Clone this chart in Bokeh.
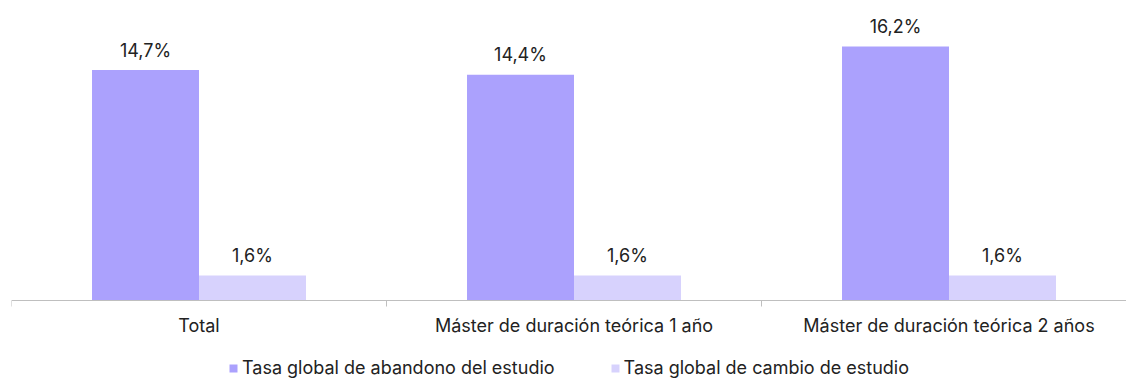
from bokeh.plotting import figure
from bokeh.models import Range1d, Legend, LegendItem, ColumnDataSource, Span
from bokeh.embed import file_html
from bokeh.resources import INLINE
from bokeh.core.properties import value

categories = ["Total", "Máster de duración teórica 1 año", "Máster de duración teórica 2 años"]
abandono = [14.7, 14.4, 16.2]
cambio = [1.6, 1.6, 1.6]
series_names = ["Tasa global de abandono del estudio", "Tasa global de cambio de estudio"]
colors = ["#aba1fd", "#d7d2fd"]

FONT = "Inter"
TXT = "#222222"
AX = "#bfbfbf"

PX_PER_UNIT = 15.68
centers = [i + 0.5 for i in range(len(categories))]
bounds = [float(i) for i in range(len(categories) + 1)]
bw = 0.2853


def fmt(v):
    return f"{v:.1f}".replace(".", ",") + "%"


p = figure(width=1126, height=378,
           x_range=Range1d(0, 1115 / 375), y_range=Range1d(-78 / PX_PER_UNIT, 300 / PX_PER_UNIT),
           output_backend="svg", toolbar_location=None, y_axis_location=None, x_axis_location=None,
           min_border_left=11, min_border_right=0, min_border_top=0, min_border_bottom=0)
p.outline_line_color = None
p.xgrid.grid_line_color = None
p.ygrid.grid_line_color = None

s1 = ColumnDataSource(dict(x=[c - bw / 2 for c in centers], top=abandono, label=[fmt(v) for v in abandono]))
s2 = ColumnDataSource(dict(x=[c + bw / 2 for c in centers], top=cambio, label=[fmt(v) for v in cambio]))

r1 = p.vbar(x="x", top="top", width=bw, bottom=0, source=s1, fill_color=colors[0], line_color=None)
r2 = p.vbar(x="x", top="top", width=bw, bottom=0, source=s2, fill_color=colors[1], line_color=None)

for s in (s1, s2):
    p.text(x="x", y="top", text="label", source=s, text_align="center", text_baseline="middle",
           y_offset=-20, text_font=value(FONT), text_font_size="18px", text_color=TXT)

# category axis: baseline, boundary ticks and labels
p.add_layout(Span(location=0, dimension="width", line_color=AX, line_width=1))
p.segment(x0=bounds, y0=[0] * len(bounds), x1=bounds, y1=[-6 / PX_PER_UNIT] * len(bounds),
          line_color=AX, line_width=1)
p.text(x=centers, y=[0] * len(centers), text=categories, text_align="center", text_baseline="middle",
       y_offset=25, text_font=value(FONT), text_font_size="18px", text_color=TXT)

legend = Legend(items=[LegendItem(label=series_names[0], renderers=[r1]),
                       LegendItem(label=series_names[1], renderers=[r2])],
                orientation="horizontal", location=(217, 0))
legend.border_line_color = None
legend.background_fill_alpha = 0
legend.label_text_font = FONT
legend.label_text_font_size = "18px"
legend.label_text_color = TXT
legend.glyph_width = 10
legend.glyph_height = 10
legend.spacing = 55
legend.label_standoff = 4
legend.padding = 0
legend.margin = 0
p.add_layout(legend, "center")

open("out.html", "w").write(file_html(p, INLINE))
